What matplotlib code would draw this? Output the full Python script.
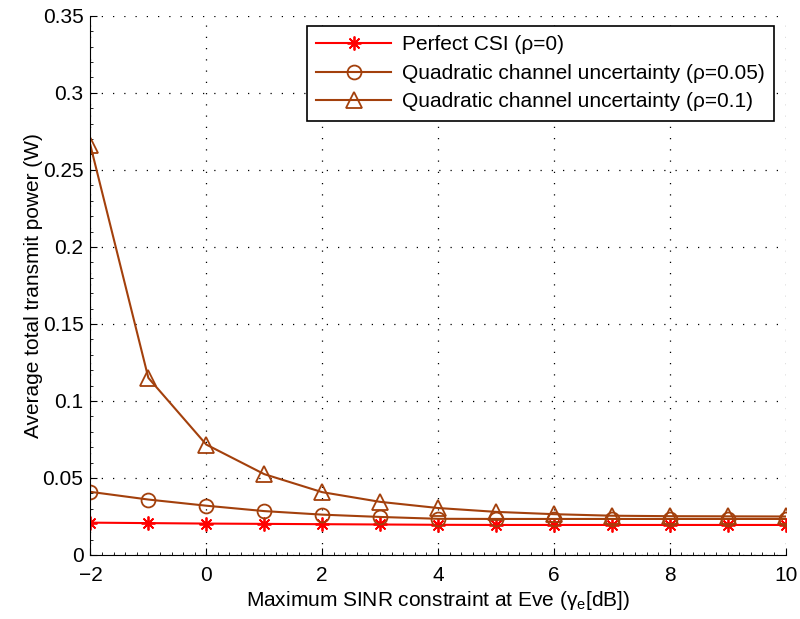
import matplotlib
matplotlib.use("Agg")
import matplotlib.pyplot as plt
from matplotlib.ticker import AutoMinorLocator

plt.rcParams['font.family'] = ['Liberation Sans', 'DejaVu Sans']
plt.rcParams['mathtext.fontset'] = 'custom'
plt.rcParams['mathtext.rm'] = 'Liberation Sans'

# data
sinr_db = [-2, -1, 0, 1, 2, 3, 4, 5, 6, 7, 8, 9, 10]
perfect_csi = [0.0210, 0.0207, 0.0204, 0.0202, 0.0200, 0.0198, 0.0196, 0.0195, 0.0195, 0.0195, 0.0195, 0.0195, 0.0195]
rho_005 = [0.0410, 0.0360, 0.0320, 0.0285, 0.0262, 0.0247, 0.0235, 0.0234, 0.0234, 0.0234, 0.0234, 0.0234, 0.0234]
rho_01 = [0.266, 0.115, 0.0717, 0.0525, 0.0408, 0.0345, 0.0305, 0.0280, 0.0265, 0.0255, 0.0252, 0.0251, 0.0250]

labels = ['Perfect CSI (ρ=0)',
          'Quadratic channel uncertainty (ρ=0.05)',
          'Quadratic channel uncertainty (ρ=0.1)']

red = '#ff0000'
brown = '#a3400c'
fs = 15

fig = plt.figure(figsize=(8, 6.19), dpi=100)
ax = fig.add_axes([0.113, 0.1034, 0.869, 0.871])

ax.plot(sinr_db, perfect_csi, color=red, marker=(8, 2, 0), markersize=10, linewidth=1.5,
        markeredgewidth=1.3, label=labels[0])
ax.plot(sinr_db, rho_005, color=brown, marker='o', markersize=10, linewidth=1.5,
        markerfacecolor='none', markeredgewidth=1.3, label=labels[1])
ax.plot(sinr_db, rho_01, color=brown, marker='^', markersize=12, linewidth=1.5,
        markerfacecolor='none', markeredgewidth=1.3, label=labels[2])

ax.set_xlim(-2, 10)
ax.set_ylim(0, 0.35)
ax.set_xticks(range(-2, 11, 2))
ax.set_xticklabels(['\u22122', '0', '2', '4', '6', '8', '10'])
ax.set_yticks([0, 0.05, 0.1, 0.15, 0.2, 0.25, 0.3, 0.35])
ax.set_yticklabels(['0', '0.05', '0.1', '0.15', '0.2', '0.25', '0.3', '0.35'])
ax.xaxis.set_minor_locator(AutoMinorLocator(10))
ax.yaxis.set_minor_locator(AutoMinorLocator(5))
ax.tick_params(which='both', direction='in', top=False, right=False)
ax.tick_params(which='major', labelsize=fs, length=5)
ax.tick_params(which='minor', length=2.5, width=0.6)
ax.tick_params(axis='x', which='major', pad=8)
ax.tick_params(axis='y', which='major', pad=5)
ax.spines['top'].set_visible(False)
ax.spines['right'].set_visible(False)
ax.grid(True, linestyle=(0, (1, 8)), color='black', linewidth=0.9)
ax.set_axisbelow(True)

ax.set_xlabel('Maximum SINR constraint at Eve (γ$_\\mathregular{e}$[dB])', fontsize=fs, labelpad=3)
ax.set_ylabel('Average total transmit power (W)', fontsize=fs, labelpad=0)

leg = ax.legend(loc='upper right', bbox_to_anchor=(0.983, 0.981), borderaxespad=0,
                fontsize=fs, fancybox=False, framealpha=1, edgecolor='black',
                handlelength=3.6, handletextpad=0.5, labelspacing=0.45, borderpad=0.45)
leg.get_frame().set_linewidth(1.2)

fig.savefig('out.png', dpi=100)
